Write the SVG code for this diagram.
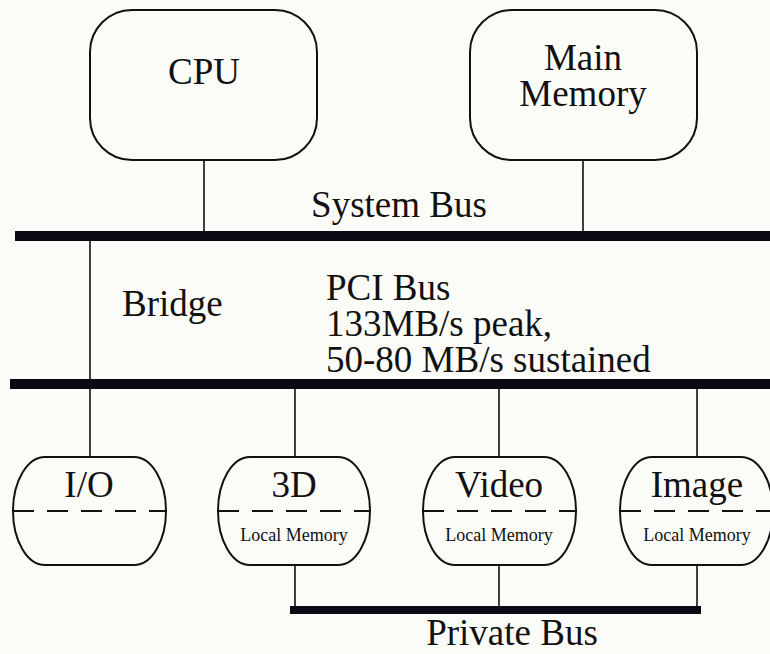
<svg xmlns="http://www.w3.org/2000/svg" width="770" height="654" viewBox="0 0 770 654">
<style>
.bg{fill:#fbfbf8}
.box{fill:none;stroke:#111;stroke-width:2}
.wire{stroke:#111;stroke-width:1.6;fill:none}
.bus{stroke:#0a0a14;fill:none}
.dash{stroke:#111;stroke-width:2;stroke-dasharray:21 13;fill:none}
.t{fill:#111}
</style>
<rect class="bg" x="0" y="0" width="770" height="654"/>
<g id="connectors">
<line class="wire" x1="204" y1="160" x2="204" y2="236"/>
<line class="wire" x1="583" y1="160" x2="583" y2="236"/>
<line class="wire" x1="90" y1="236" x2="90" y2="457"/>
<line class="wire" x1="295" y1="384" x2="295" y2="457"/>
<line class="wire" x1="499" y1="384" x2="499" y2="457"/>
<line class="wire" x1="697" y1="384" x2="697" y2="457"/>
<line class="wire" x1="295" y1="565" x2="295" y2="610"/>
<line class="wire" x1="499" y1="565" x2="499" y2="610"/>
<line class="wire" x1="697" y1="565" x2="697" y2="610"/>
<line class="bus" x1="15" y1="236" x2="770" y2="236" stroke-width="10"/>
<line class="bus" x1="10" y1="384" x2="770" y2="384" stroke-width="10"/>
<line class="bus" x1="290" y1="610" x2="701" y2="610" stroke-width="8"/>
</g>
<g id="cpu">
<rect class="box" x="90" y="10" width="227" height="150" rx="42"/>
<text class="t" x="204" y="84" font-family="Liberation Serif" font-size="37" text-anchor="middle">CPU</text>
</g>
<g id="main-memory">
<rect class="box" x="470" y="10" width="227" height="150" rx="42"/>
<text class="t" x="583" y="70" font-family="Liberation Serif" font-size="37" text-anchor="middle">Main</text>
<text class="t" x="583" y="106" font-family="Liberation Serif" font-size="37" text-anchor="middle">Memory</text>
</g>
<g id="system-bus-label">
<text class="t" x="399" y="217" font-family="Liberation Serif" font-size="37" text-anchor="middle">System Bus</text>
</g>
<g id="bridge-label">
<text class="t" x="122" y="316" font-family="Liberation Serif" font-size="37">Bridge</text>
</g>
<g id="pci-label">
<text class="t" x="326" y="300" font-family="Liberation Serif" font-size="37">PCI Bus</text>
<text class="t" x="326" y="336" font-family="Liberation Serif" font-size="37">133MB/s peak,</text>
<text class="t" x="326" y="372" font-family="Liberation Serif" font-size="37">50-80 MB/s sustained</text>
</g>
<g id="io">
<rect class="box" x="13" y="457" width="153" height="108" rx="32" ry="54"/>
<line class="dash" x1="13" y1="511" x2="166" y2="511"/>
<text class="t" x="89" y="497" font-family="Liberation Serif" font-size="37" text-anchor="middle">I/O</text>
</g>
<g id="three-d">
<rect class="box" x="218" y="457" width="152" height="108" rx="32" ry="54"/>
<line class="dash" x1="218" y1="511" x2="370" y2="511"/>
<text class="t" x="294" y="497" font-family="Liberation Serif" font-size="37" text-anchor="middle">3D</text>
<text class="t" x="294" y="541" font-family="Liberation Serif" font-size="18" text-anchor="middle">Local Memory</text>
</g>
<g id="video">
<rect class="box" x="423" y="457" width="153" height="108" rx="32" ry="54"/>
<line class="dash" x1="423" y1="511" x2="576" y2="511"/>
<text class="t" x="499" y="497" font-family="Liberation Serif" font-size="37" text-anchor="middle">Video</text>
<text class="t" x="499" y="541" font-family="Liberation Serif" font-size="18" text-anchor="middle">Local Memory</text>
</g>
<g id="image">
<rect class="box" x="620" y="457" width="153" height="108" rx="32" ry="54"/>
<line class="dash" x1="620" y1="511" x2="773" y2="511"/>
<text class="t" x="697" y="497" font-family="Liberation Serif" font-size="37" text-anchor="middle">Image</text>
<text class="t" x="697" y="541" font-family="Liberation Serif" font-size="18" text-anchor="middle">Local Memory</text>
</g>
<g id="private-bus-label">
<text class="t" x="512" y="645" font-family="Liberation Serif" font-size="37" text-anchor="middle">Private Bus</text>
</g>
</svg>
